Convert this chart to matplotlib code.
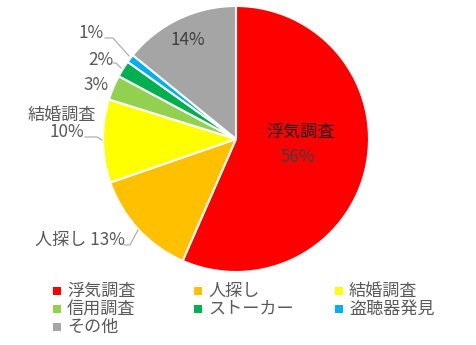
import matplotlib
matplotlib.use("Agg")
import matplotlib.pyplot as plt
from matplotlib.patches import Rectangle
from matplotlib.lines import Line2D

plt.rcParams['font.family'] = ['Noto Sans CJK JP', 'DejaVu Sans']

categories = ['浮気調査', '人探し', '結婚調査', '信用調査', 'ストーカー', '盗聴器発見', 'その他']
shares = [56, 13, 10, 3, 2, 1, 14]
colors = ['#FF0000', '#FFC000', '#FFFF00', '#92D050', '#00B050', '#00B0F0', '#A5A5A5']

W, H = 476, 345
fig = plt.figure(figsize=(W / 100, H / 100), dpi=100)
cx, cy, r = 236, 139, 133
ax = fig.add_axes([(cx - r) / W, (H - cy - r) / H, 2 * r / W, 2 * r / H])
ax.pie(shares, colors=colors, startangle=90, counterclock=False,
       wedgeprops=dict(edgecolor='white', linewidth=1.5))
ax.set_xlim(-1, 1)
ax.set_ylim(-1, 1)
ax.set_aspect('equal')
ax.axis('off')


def d(px, py):
    """pixel position -> pie data coordinates"""
    return (px - cx) / r, (cy - py) / r


gray = '#595959'
fs = 12.3
pct = [f'{v}%' for v in shares]

# labels inside the large slices
ax.text(*d(301, 132), categories[0], ha='center', va='center', fontsize=fs, color='#1a1a1a')
ax.text(*d(298, 157), pct[0], ha='center', va='center', fontsize=fs, color='#404040')
ax.text(*d(188, 40), pct[6], ha='center', va='center', fontsize=fs, color='#404040')

# outside labels
ax.text(*d(91, 33), pct[5], ha='center', va='center', fontsize=fs, color=gray)
ax.text(*d(101, 60), pct[4], ha='center', va='center', fontsize=fs, color=gray)
ax.text(*d(96, 85), pct[3], ha='center', va='center', fontsize=fs, color=gray)
ax.text(*d(62, 115), categories[2], ha='center', va='center', fontsize=fs, color=gray)
ax.text(*d(67, 132), pct[2], ha='center', va='center', fontsize=fs, color=gray)
ax.text(*d(80, 240), f'{categories[1]} {pct[1]}', ha='center', va='center', fontsize=fs, color=gray)

# leader lines
leaders = [
    [(105, 38), (113, 38), (129, 56)],
    [(113, 63), (116, 63), (121, 68)],
    [(85, 137), (97, 137), (102, 140)],
    [(124, 245), (130, 245), (138, 230)],
]
for pts in leaders:
    xs, ys = zip(*[d(*p) for p in pts])
    ax.add_line(Line2D(xs, ys, color='#a6a6a6', lw=0.8, clip_on=False))

# legend grid, row-major
col_x = [57, 198, 339]
row_y = [291, 309, 327]
for i, (lab, col) in enumerate(zip(categories, colors)):
    mx, my = col_x[i % 3], row_y[i // 3]
    s = 8
    fig.patches.append(Rectangle(((mx - s / 2) / W, (H - my - s / 2) / H), s / W, s / H,
                                 transform=fig.transFigure, facecolor=col, edgecolor='none'))
    fig.text((mx + 10) / W, (H - my) / H, lab, ha='left', va='center', fontsize=fs, color=gray)

fig.savefig('out.png', dpi=100, facecolor='white')
